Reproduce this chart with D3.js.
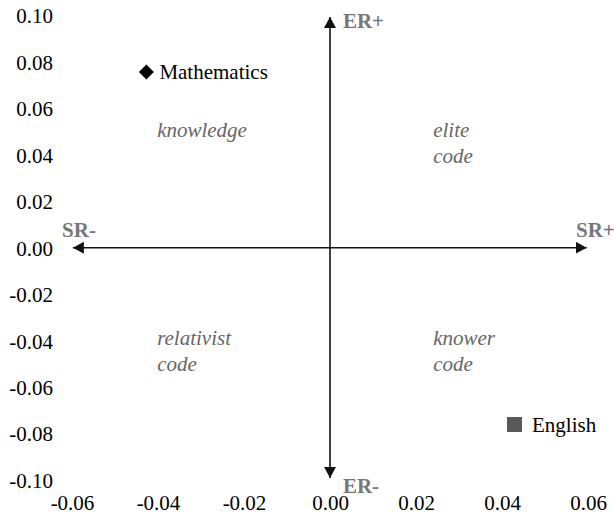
<!DOCTYPE html>
<html><head><meta charset="utf-8">
<script src="https://cdn.jsdelivr.net/npm/d3@7"></script>
<style>body{margin:0;background:#fff}svg{display:block}</style>
</head><body>
<svg id="c" width="614" height="522"></svg>
<script>
const xTicks = [-0.06, -0.04, -0.02, 0.00, 0.02, 0.04, 0.06];
const yTicks = [0.10, 0.08, 0.06, 0.04, 0.02, 0.00, -0.02, -0.04, -0.06, -0.08, -0.10];
const subjects = ["Mathematics", "English"];
const srValues = [-0.0427, 0.0429];
const erValues = [0.0757, -0.0761];
const markerShapes = ["diamond", "square"];
const markerColors = ["#000000", "#595959"];
const quadrantLines = [["knowledge"], ["elite", "code"], ["relativist", "code"], ["knower", "code"]];
const quadrantX = [-0.0402, 0.0240, -0.0402, 0.0240];
const quadrantY = [0.0477, 0.0477, -0.0419, -0.0419];
const axisLabels = ["ER+", "ER-", "SR-", "SR+"];
const axisLabelX = [0.0030, 0.0030, -0.0623, 0.0572];
const axisLabelY = [0.0946, -0.1056, 0.0046, 0.0046];
const srArrow = [-0.0598, 0.0597];
const erArrow = [-0.0991, 0.0994];

const svg = d3.select("#c");
const x = d3.scaleLinear().domain([-0.06, 0.06]).range([72, 588]);
const y = d3.scaleLinear().domain([-0.10, 0.10]).range([480, 15.5]);
const font = "'Liberation Serif', 'Times New Roman', serif";
const f2 = d3.format(".2f");
const fmt = d => f2(d).replace("\u2212", "-");
const FS = 21;

// tick labels (no axis lines)
const yAxis = d3.axisLeft(y).tickValues(yTicks).tickFormat(fmt).tickSize(0).tickPadding(0);
const gy = svg.append("g").attr("transform", "translate(53,0)").call(yAxis);
gy.select(".domain").remove();
gy.selectAll("text").attr("font-family", font).attr("font-size", FS).attr("fill", "#000").attr("dy", "0.35em");

const xAxis = d3.axisBottom(x).tickValues(xTicks).tickFormat(fmt).tickSize(0).tickPadding(0);
const gx = svg.append("g").attr("transform", "translate(0,510)").call(xAxis);
gx.select(".domain").remove();
gx.selectAll("text").attr("font-family", font).attr("font-size", FS).attr("fill", "#000").attr("dy", "0");

// arrow marker
const defs = svg.append("defs");
defs.append("marker").attr("id", "arr").attr("viewBox", "0 0 11 12")
  .attr("refX", 11).attr("refY", 6).attr("markerWidth", 11).attr("markerHeight", 12)
  .attr("markerUnits", "userSpaceOnUse").attr("orient", "auto-start-reverse")
  .append("path").attr("d", "M0,0L11,6L0,12Z").attr("fill", "#111");

svg.append("line").attr("x1", x(srArrow[0])).attr("x2", x(srArrow[1])).attr("y1", y(0)).attr("y2", y(0))
  .attr("stroke", "#111").attr("stroke-width", 1.6)
  .attr("marker-start", "url(#arr)").attr("marker-end", "url(#arr)");
svg.append("line").attr("x1", x(0)).attr("x2", x(0)).attr("y1", y(erArrow[0])).attr("y2", y(erArrow[1]))
  .attr("stroke", "#111").attr("stroke-width", 1.6)
  .attr("marker-start", "url(#arr)").attr("marker-end", "url(#arr)");

// axis end labels
svg.selectAll(".alab").data(axisLabels).join("text")
  .attr("x", (d, i) => x(axisLabelX[i])).attr("y", (d, i) => y(axisLabelY[i]))
  .attr("font-family", font).attr("font-size", FS).attr("font-weight", "bold").attr("fill", "#777")
  .text(d => d);

// quadrant labels
quadrantLines.forEach((lines, i) => {
  const t = svg.append("text").attr("x", x(quadrantX[i])).attr("y", y(quadrantY[i]))
    .attr("font-family", font).attr("font-size", FS).attr("font-style", "italic").attr("fill", "#666");
  lines.forEach((l, j) => t.append("tspan").attr("x", x(quadrantX[i])).attr("dy", j === 0 ? "0" : "1.25em").text(l));
});

// points
subjects.forEach((s, i) => {
  const px = x(srValues[i]), py = y(erValues[i]);
  const isDiamond = markerShapes[i] === "diamond";
  svg.append("path").attr("d", d3.symbol(d3.symbolSquare, isDiamond ? 112 : 225)())
    .attr("transform", `translate(${px},${py})` + (isDiamond ? " rotate(45)" : ""))
    .attr("fill", markerColors[i]);
  svg.append("text").attr("x", px + (isDiamond ? 13 : 17.5)).attr("y", py).attr("dy", "0.35em")
    .attr("font-family", font).attr("font-size", FS).attr("fill", "#000").text(s);
});
</script>
</body></html>
